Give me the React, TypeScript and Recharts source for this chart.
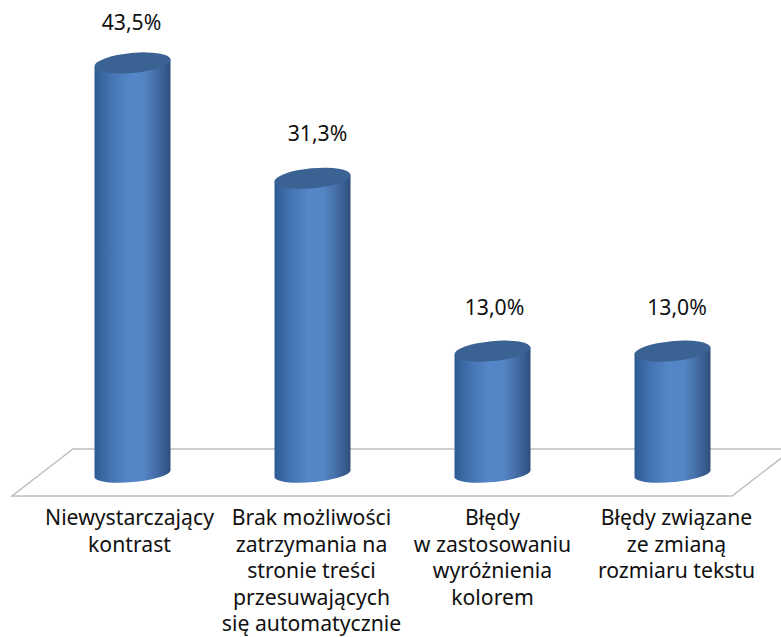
import { BarChart, Bar, XAxis, YAxis, LabelList, Customized } from 'recharts'

const categories = [
  'Niewystarczający\nkontrast',
  'Brak możliwości\nzatrzymania na\nstronie treści\nprzesuwających\nsię automatycznie',
  'Błędy\nw zastosowaniu\nwyróżnienia\nkolorem',
  'Błędy związane\nze zmianą\nrozmiaru tekstu',
]
const values = [43.5, 31.3, 13.0, 13.0]

// hand placement of the text, which does not sit exactly on the bar centres
const tickShift = [-3, -1, 0, 4]
const labelShiftX = [0, 6, 3, 5.5]
const labelShiftY = [0, -4, -3, -3]

const data = categories.map((name, i) => ({ name, value: values[i] }))

const FONT = '"Noto Sans", sans-serif'
const FONT_SIZE = 21.2
const TILT = -5.3
const RY = 10

// cylinder body plus its darker tilted cap
function Cylinder({ x, y, width, height }: any) {
  const rx = width / 2 + 0.2
  const drop = 3.5
  const cx = x + width / 2
  const bottom = y + height
  const body = [
    `M${x},${y + drop}`,
    `L${x},${bottom + drop}`,
    `A${rx},${RY - 1.5} ${TILT} 0 0 ${x + width},${bottom - drop}`,
    `L${x + width},${y - drop}`,
    'Z',
  ].join(' ')
  return (
    <g>
      <path d={body} fill="url(#cyl)" />
      <ellipse cx={cx} cy={y} rx={rx} ry={RY} fill="#3a6394" transform={`rotate(${TILT} ${cx} ${y})`} />
    </g>
  )
}

// the grey floor plane the cylinders stand on
function Floor() {
  return (
    <polyline
      points="793,449 73,449 12,496 732,496 793,449"
      fill="none"
      stroke="#bfbfbf"
      strokeWidth={1.5}
    />
  )
}

function CategoryTick({ x, y, payload, index }: any) {
  const lines = String(payload.value).split('\n')
  const tx = x + tickShift[index]
  return (
    <text x={tx} y={y} textAnchor="middle" fontFamily={FONT} fontSize={FONT_SIZE} fill="#111">
      {lines.map((line, i) => (
        <tspan key={i} x={tx} y={y + 45 + i * 26.5}>
          {line}
        </tspan>
      ))}
    </text>
  )
}

function ValueLabel({ x, y, width, value, index }: any) {
  return (
    <text
      x={x + width / 2 - 1 + labelShiftX[index]}
      y={y - 33 + labelShiftY[index]}
      textAnchor="middle"
      fontFamily={FONT}
      fontSize={FONT_SIZE}
      fill="#111"
    >
      {Number(value).toFixed(1).replace('.', ',')}%
    </text>
  )
}

export default function App() {
  return (
    <div style={{ position: 'absolute', left: 0, top: 0, width: 781, height: 637, overflow: 'hidden', background: '#fff' }}>
      <BarChart
        width={781}
        height={637}
        data={data}
        margin={{ top: 1.5, right: 18.5, bottom: 0, left: 42.5 }}
      >
        <defs>
          <linearGradient id="cyl" x1="0" y1="0" x2="1" y2="0">
            <stop offset="0%" stopColor="#2e5a92" />
            <stop offset="20%" stopColor="#4272b0" />
            <stop offset="45%" stopColor="#5586c8" />
            <stop offset="65%" stopColor="#5484c4" />
            <stop offset="85%" stopColor="#41699f" />
            <stop offset="100%" stopColor="#2d4f7c" />
          </linearGradient>
        </defs>
        <Customized component={Floor} />
        <XAxis
          dataKey="name"
          axisLine={false}
          tickLine={false}
          interval={0}
          height={163}
          tick={<CategoryTick />}
          tickMargin={0}
        />
        <YAxis hide domain={[0, 50]} />
        <Bar dataKey="value" barSize={76} shape={<Cylinder />} isAnimationActive={false}>
          <LabelList dataKey="value" content={<ValueLabel />} />
        </Bar>
      </BarChart>
    </div>
  )
}
